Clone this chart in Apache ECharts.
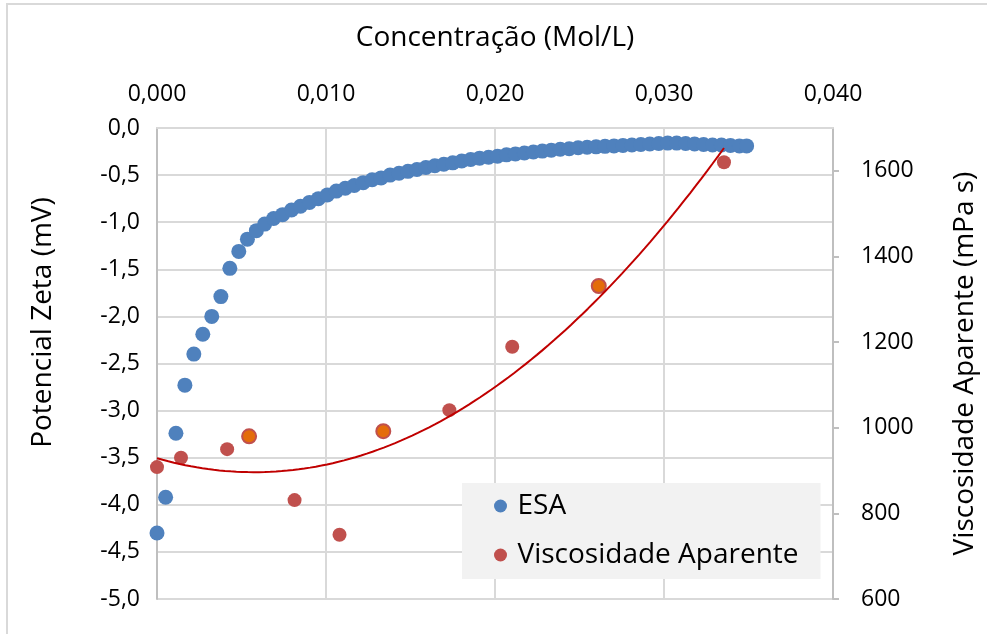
<!DOCTYPE html>
<html><head><meta charset="utf-8">
<script src="https://cdn.jsdelivr.net/npm/echarts@6/dist/echarts.min.js"></script>
<style>
html,body{margin:0;padding:0;background:#fff;overflow:hidden}
#c{width:987px;height:634px}
#frame{position:absolute;left:6px;top:3px;width:1000px;height:700px;border-left:2px solid #d9d9d9;border-top:2px solid #d9d9d9;pointer-events:none}
</style></head><body>
<div id="c"></div><div id="frame"></div>
<script>
// ESA (zeta potential) series
const esaConc = [0.00000, 0.00051, 0.00112, 0.00165, 0.00218, 0.00271, 0.00324, 0.00378, 0.00431, 0.00484,
  0.00535, 0.00588, 0.00637, 0.00690, 0.00743, 0.00796, 0.00849, 0.00902, 0.00955, 0.01008,
  0.01061, 0.01114, 0.01167, 0.01220, 0.01273, 0.01326, 0.01379, 0.01432, 0.01485, 0.01538,
  0.01591, 0.01644, 0.01697, 0.01750, 0.01803, 0.01856, 0.01909, 0.01962, 0.02015, 0.02068,
  0.02121, 0.02174, 0.02227, 0.02280, 0.02333, 0.02386, 0.02439, 0.02492, 0.02545, 0.02598,
  0.02651, 0.02704, 0.02757, 0.02810, 0.02863, 0.02916, 0.02969, 0.03022, 0.03075, 0.03128,
  0.03181, 0.03234, 0.03287, 0.03340, 0.03393, 0.03446, 0.03489];
const esaZeta = [-4.30, -3.92, -3.24, -2.73, -2.40, -2.19, -2.00, -1.79, -1.49, -1.31,
  -1.18, -1.09, -1.02, -0.96, -0.92, -0.87, -0.83, -0.79, -0.75, -0.71,
  -0.67, -0.64, -0.61, -0.58, -0.55, -0.53, -0.50, -0.48, -0.46, -0.44,
  -0.42, -0.40, -0.385, -0.37, -0.35, -0.335, -0.32, -0.31, -0.30, -0.285,
  -0.275, -0.265, -0.255, -0.245, -0.235, -0.225, -0.22, -0.21, -0.205, -0.20,
  -0.195, -0.19, -0.185, -0.18, -0.175, -0.17, -0.165, -0.16, -0.16, -0.165,
  -0.17, -0.175, -0.18, -0.18, -0.185, -0.19, -0.19];
// Apparent viscosity series
const viscConc = [0.00000, 0.00142, 0.00415, 0.00545, 0.00814, 0.01080, 0.01339, 0.01730, 0.02102, 0.02614, 0.03355];
const viscValue = [908, 930, 950, 980, 831, 750, 992, 1041, 1189, 1331, 1620];
const viscHighlighted = [3, 6, 9];
// axis ticks
const viscTicks = [600, 800, 1000, 1200, 1400, 1600];
const seriesNames = ['ESA', 'Viscosidade Aparente'];

// quadratic least-squares trendline (as in the spreadsheet)
function polyFit2(xs, ys) {
  let S = [0,0,0,0,0], T = [0,0,0];
  xs.forEach((x, i) => {
    for (let k = 0; k < 5; k++) S[k] += Math.pow(x, k);
    for (let k = 0; k < 3; k++) T[k] += Math.pow(x, k) * ys[i];
  });
  const A = [[S[0],S[1],S[2],T[0]],[S[1],S[2],S[3],T[1]],[S[2],S[3],S[4],T[2]]];
  for (let c = 0; c < 3; c++) {
    let p = c;
    for (let r = c+1; r < 3; r++) if (Math.abs(A[r][c]) > Math.abs(A[p][c])) p = r;
    [A[c], A[p]] = [A[p], A[c]];
    for (let r = 0; r < 3; r++) if (r !== c) {
      const f = A[r][c] / A[c][c];
      for (let k = c; k < 4; k++) A[r][k] -= f * A[c][k];
    }
  }
  return [A[0][3]/A[0][0], A[1][3]/A[1][1], A[2][3]/A[2][2]];
}
const coef = polyFit2(viscConc, viscValue);
const xMin = Math.min(...viscConc), xMax = Math.max(...viscConc);
const trend = [];
for (let i = 0; i <= 100; i++) {
  const x = xMin + (xMax - xMin) * i / 100;
  trend.push([x, coef[0] + coef[1]*x + coef[2]*x*x]);
}

const FONT = 'Open Sans';
const comma = (v, d) => v.toFixed(d).replace('.', ',').replace('-0,0', '0,0');

const chart = echarts.init(document.getElementById('c'), null, {renderer: 'canvas'});
chart.setOption({
  animation: false,
  backgroundColor: '#fff',
  textStyle: {fontFamily: FONT, color: '#000'},
  grid: {left: 157, right: 152, top: 128, bottom: 35, containLabel: false},
  xAxis: {
    type: 'value', position: 'top', min: 0, max: 0.04, interval: 0.01,
    name: 'Concentração (Mol/L)', nameLocation: 'middle', nameGap: 76,
    nameTextStyle: {fontFamily: FONT, fontSize: 28, color: '#000'},
    axisLine: {show: true, lineStyle: {color: '#d9d9d9', width: 2}},
    axisTick: {show: false},
    axisLabel: {fontFamily: FONT, fontSize: 23, color: '#000', margin: 22, formatter: v => comma(v, 3)},
    splitLine: {show: true, lineStyle: {color: '#d9d9d9', width: 2}}
  },
  yAxis: [{
    type: 'value', min: -5, max: 0, interval: 0.5, position: 'left',
    name: 'Potencial Zeta (mV)', nameLocation: 'middle', nameGap: 100,
    nameTextStyle: {fontFamily: FONT, fontSize: 28, color: '#000', padding: [0, 0, 0, 82]},
    axisLine: {show: true, lineStyle: {color: '#bfbfbf', width: 2}},
    axisTick: {show: false},
    axisLabel: {fontFamily: FONT, fontSize: 23, color: '#000', margin: 17, formatter: v => comma(v, 1)},
    splitLine: {show: true, lineStyle: {color: '#d9d9d9', width: 2}}
  }, {
    type: 'value', min: 600, max: 1700, position: 'right',
    name: 'Viscosidade Aparente (mPa s)', nameLocation: 'middle', nameGap: 118,
    nameTextStyle: {fontFamily: FONT, fontSize: 28, color: '#000'},
    axisLine: {show: true, lineStyle: {color: '#bfbfbf', width: 2}},
    axisTick: {show: true, inside: false, length: 6, lineStyle: {color: '#bfbfbf', width: 2}, customValues: viscTicks},
    axisLabel: {fontFamily: FONT, fontSize: 23, color: '#000', margin: 28, customValues: viscTicks, formatter: v => String(v)},
    splitLine: {show: false}
  }],
  legend: {
    data: seriesNames,
    orient: 'vertical', left: 462, top: 483,
    backgroundColor: '#f2f2f2',
    padding: [8, 22, 9, 32],
    itemGap: 19, itemWidth: 24, itemHeight: 13, icon: 'circle',
    textStyle: {fontFamily: FONT, fontSize: 28, color: '#000', lineHeight: 30}
  },
  series: [{
    name: seriesNames[0], type: 'scatter', xAxisIndex: 0, yAxisIndex: 0,
    symbolSize: 15, itemStyle: {color: '#4F81BD', opacity: 1}, z: 3,
    data: esaConc.map((x, i) => [x, esaZeta[i]])
  }, {
    name: seriesNames[1], type: 'scatter', xAxisIndex: 0, yAxisIndex: 1,
    symbolSize: 14, itemStyle: {color: '#C0504D', opacity: 1}, z: 4,
    data: viscConc.map((x, i) => viscHighlighted.includes(i)
      ? {value: [x, viscValue[i]], itemStyle: {color: '#E46C0A', borderColor: '#C0504D', borderWidth: 2, opacity: 1}}
      : [x, viscValue[i]])
  }, {
    name: 'trend', type: 'line', xAxisIndex: 0, yAxisIndex: 1, showSymbol: false, symbol: 'none',
    lineStyle: {color: '#C00000', width: 2}, z: 5, silent: true,
    data: trend
  }]
});
</script>
</body></html>
